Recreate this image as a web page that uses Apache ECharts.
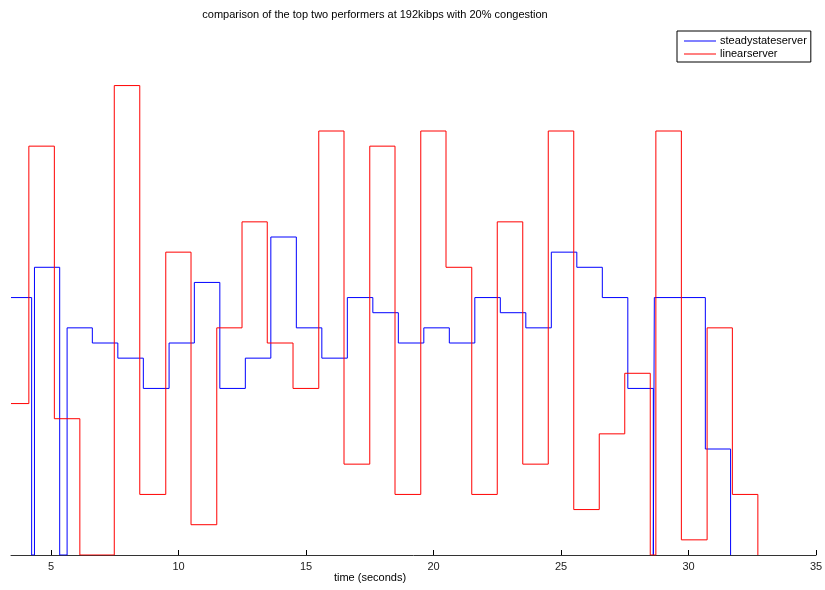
<!DOCTYPE html>
<html>
<head>
<meta charset="utf-8">
<script src="https://cdn.jsdelivr.net/npm/echarts@6/dist/echarts.min.js"></script>
<style>
  html, body { margin: 0; padding: 0; background: #fff; }
  #chart { width: 825px; height: 590px; }
</style>
</head>
<body>
<div id="chart"></div>
<script>
// step edges (seconds) and the level held from each edge until the next one
const steadyTimes = [3.43, 4.24, 4.35, 5.34, 5.63, 6.62, 7.62, 8.62, 9.63, 10.62, 11.62, 12.62, 13.62, 14.62, 15.62, 16.62, 17.62, 18.62, 19.62, 20.62, 21.62, 22.62, 23.62, 24.62, 25.62, 26.62, 27.62, 28.62, 28.66, 30.66, 31.65]
const steadyValues = [17, 0, 19, 0, 15, 14, 13, 11, 14, 18, 11, 13, 21, 15, 13, 17, 16, 14, 15, 14, 17, 16, 15, 20, 19, 17, 11, 0, 17, 7, 0]

const linearTimes = [3.43, 4.13, 5.13, 6.13, 7.48, 8.48, 9.5, 10.49, 11.5, 12.49, 13.48, 14.49, 15.5, 16.49, 17.5, 18.49, 19.5, 20.49, 21.5, 22.5, 23.5, 24.5, 25.5, 26.5, 27.5, 28.5, 28.72, 29.72, 30.73, 31.72, 32.72]
const linearValues = [10, 27, 9, 0, 31, 4, 20, 2, 15, 22, 14, 11, 28, 6, 27, 4, 28, 19, 4, 22, 6, 28, 3, 8, 12, 0, 28, 1, 15, 4, 0]

const timeTicks = [5, 10, 15, 20, 25, 30, 35]

const font = "'Liberation Sans', Arial, sans-serif"

const chart = echarts.init(document.getElementById("chart"), undefined, {
  renderer: "canvas",
})

chart.setOption({
  animation: false,
  backgroundColor: "#fff",
  title: {
    text: "comparison of the top two performers at 192kibps with 20% congestion",
    left: 370,
    textAlign: "center",
    top: 4,
    textStyle: {
      fontFamily: font,
      fontSize: 11,
      fontWeight: "normal",
      color: "#000",
    },
  },
  legend: {
    orient: "vertical",
    left: 677,
    top: 31,
    padding: [4, 4, 2, 7],
    icon: "rect",
    itemWidth: 32,
    itemHeight: 1,
    itemGap: 1,
    itemStyle: { borderWidth: 0 },
    borderColor: "#000",
    borderWidth: 1,
    backgroundColor: "#fff",
    textStyle: {
      fontFamily: font,
      fontSize: 11,
      color: "#000",
      lineHeight: 12,
      padding: [0, 0, 0, -1],
    },
    data: ["steadystateserver", "linearserver"],
  },
  grid: {
    left: 11,
    right: 9,
    top: 25,
    bottom: 35,
    containLabel: false,
    outerBoundsMode: "none",
  },
  xAxis: {
    type: "value",
    min: 3.43,
    max: 35,
    name: "time (seconds)",
    nameLocation: "middle",
    nameGap: 17,
    nameMoveOverlap: false,
    nameTextStyle: {
      fontFamily: font,
      fontSize: 11,
      color: "#000",
      verticalAlign: "top",
      padding: [0, 87, 0, 0],
    },
    axisLine: {
      onZero: false,
      lineStyle: { color: "#333", width: 1 },
    },
    axisTick: {
      inside: true,
      length: 5,
      customValues: timeTicks,
      lineStyle: { color: "#000" },
    },
    axisLabel: {
      customValues: timeTicks,
      margin: 6,
      fontFamily: font,
      fontSize: 11,
      color: "#222",
    },
    splitLine: { show: false },
  },
  yAxis: {
    type: "value",
    min: 0,
    max: 35,
    show: false,
  },
  series: [
    {
      name: "steadystateserver",
      type: "line",
      step: "end",
      symbol: "none",
      lineStyle: { color: "#0000ff", width: 1 },
      itemStyle: { color: "#0000ff" },
      data: steadyTimes.map((t, i) => [t, steadyValues[i]]),
    },
    {
      name: "linearserver",
      type: "line",
      step: "end",
      symbol: "none",
      lineStyle: { color: "#ff0000", width: 1 },
      itemStyle: { color: "#ff0000" },
      data: linearTimes.map((t, i) => [t, linearValues[i]]),
    },
  ],
})
</script>
</body>
</html>
